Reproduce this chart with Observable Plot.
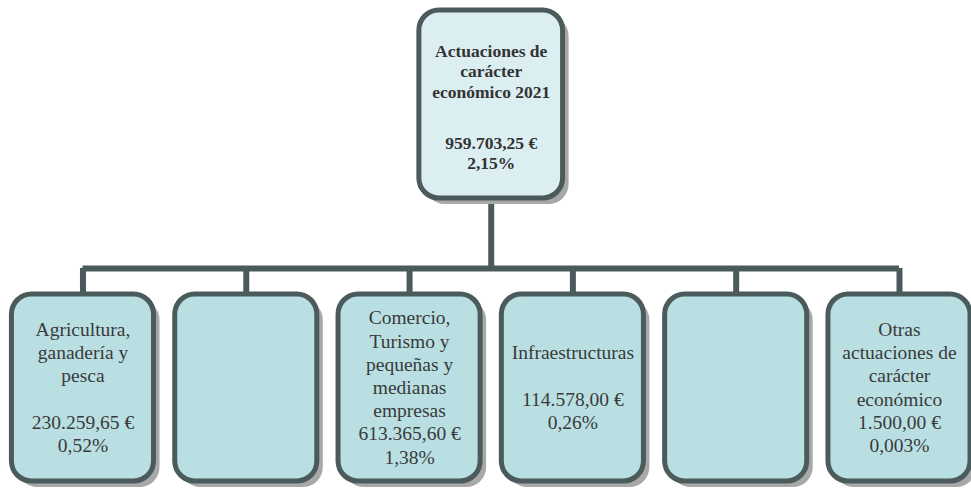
<!DOCTYPE html>
<html>
<head>
<meta charset="utf-8">
<script src="https://cdn.jsdelivr.net/npm/d3@7"></script>
<script src="https://cdn.jsdelivr.net/npm/@observablehq/plot@0.6"></script>
<style>
  html, body { margin: 0; padding: 0; background: #ffffff; }
  #chart svg { display: block; }
</style>
</head>
<body>
<div id="chart"></div>
<script>
// ---- Data ----
const rootTitle = "Actuaciones de\ncarácter\neconómico 2021";
const rootAmount = 959703.25;
const rootShare = 2.15;

const categories = [
  "Agricultura,\nganadería y\npesca",
  "",
  "Comercio,\nTurismo y\npequeñas y\nmedianas\nempresas",
  "Infraestructuras",
  "",
  "Otras\nactuaciones de\ncarácter\neconómico"
];
const amounts = [230259.65, null, 613365.60, 114578.00, null, 1500.00];
const shares = ["0,52%", null, "1,38%", "0,26%", null, "0,003%"];

// ---- Formatting (Spanish style) ----
function fmtEuro(v) {
  const [int, dec] = v.toFixed(2).split(".");
  const grouped = int.replace(/\B(?=(\d{3})+(?!\d))/g, ".");
  return grouped + "," + dec + " €";
}
function fmtPct(v) { return String(v).replace(".", ",") + "%"; }

const children = categories.map((name, i) => {
  let label = "";
  if (name) {
    const nLines = name.split("\n").length;
    const sep = nLines + 2 < 6 ? "\n\n" : "\n";
    label = name + sep + fmtEuro(amounts[i]) + "\n" + shares[i];
  }
  return { i, label };
});
const root = [{ i: (categories.length - 1) / 2 }];

// ---- Layout constants ----
const W = 971, H = 488;
const stroke = "#4b5a5b";
const topY1 = 10, topY2 = 198;
const barY = 268;
const botY1 = 294, botY2 = 481;
const halfBot = 0.435, halfTop = 0.44;
const serif = "Liberation Serif";

const chart = Plot.plot({
  width: W,
  height: H,
  margin: 0,
  style: { fontFamily: serif },
  x: { domain: [-0.505, 5.441], axis: null },
  y: { domain: [0, H], reverse: true, axis: null },
  marks: [
    // connectors
    Plot.ruleX(root, { x: "i", y1: topY2, y2: barY, stroke, strokeWidth: 6 }),
    Plot.ruleY([barY], { x1: 0, x2: categories.length - 1, stroke, strokeWidth: 6 }),
    Plot.ruleX(children, { x: "i", y1: barY, y2: botY1, stroke, strokeWidth: 6 }),
    // shadows
    Plot.rect(root, { x1: d => d.i - halfTop, x2: d => d.i + halfTop, y1: topY1, y2: topY2, rx: 20, fill: "#a8a8a8", dx: 6, dy: 6 }),
    Plot.rect(children, { x1: d => d.i - halfBot, x2: d => d.i + halfBot, y1: botY1, y2: botY2, rx: 20, fill: "#a8a8a8", dx: 6, dy: 6 }),
    // boxes
    Plot.rect(root, { x1: d => d.i - halfTop, x2: d => d.i + halfTop, y1: topY1, y2: topY2, rx: 20, fill: "#dbeef1", stroke, strokeWidth: 5 }),
    Plot.rect(children, { x1: d => d.i - halfBot, x2: d => d.i + halfBot, y1: botY1, y2: botY2, rx: 20, fill: "#b9dfe3", stroke, strokeWidth: 5 }),
    // top texts
    Plot.text(root, { x: "i", y: 97, text: () => rootTitle, lineAnchor: "bottom", lineHeight: 1.15,
      fontFamily: serif, fontWeight: "bold", fontSize: 17.5, fill: "#333333" }),
    Plot.text(root, { x: "i", y: 134, text: () => fmtEuro(rootAmount) + "\n" + fmtPct(rootShare), lineAnchor: "top", lineHeight: 1.15,
      fontFamily: serif, fontWeight: "bold", fontSize: 17.5, fill: "#333333" }),
    // child texts
    Plot.text(children, { x: "i", y: (botY1 + botY2) / 2 - 1.5, text: "label", lineAnchor: "middle", lineHeight: 1.19,
      fontFamily: serif, fontSize: 19.5, fill: "#3a3a3a" })
  ]
});
document.getElementById("chart").appendChild(chart);
</script>
</body>
</html>
